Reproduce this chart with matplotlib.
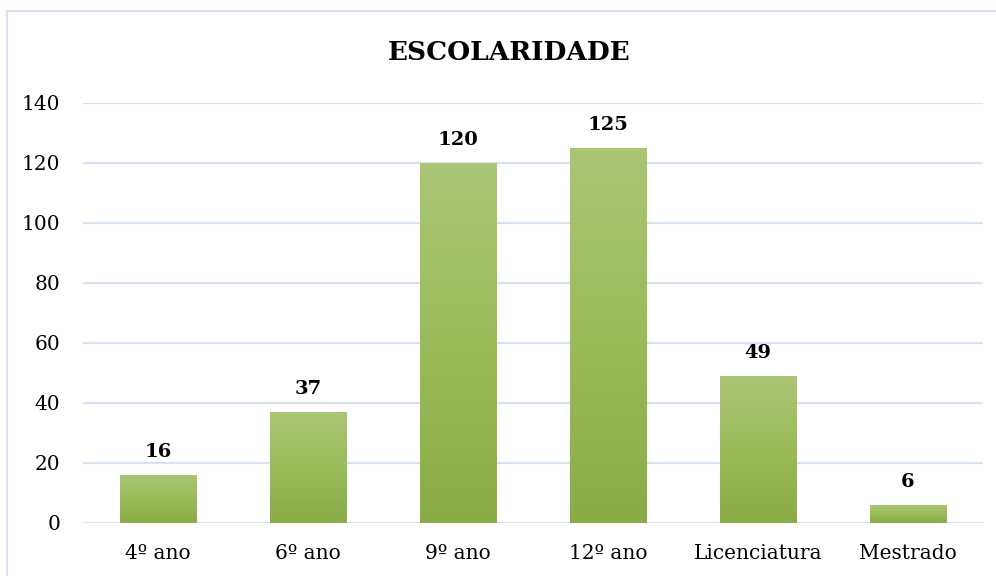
import numpy as np
import matplotlib
matplotlib.use('Agg')
import matplotlib.pyplot as plt
from matplotlib.colors import LinearSegmentedColormap
from matplotlib.patches import Rectangle

categorias = ['4º ano', '6º ano', '9º ano', '12º ano', 'Licenciatura', 'Mestrado']
valores = [16, 37, 120, 125, 49, 6]
yticks = [0, 20, 40, 60, 80, 100, 120, 140]

plt.rcParams['font.family'] = ['DejaVu Serif']

fig = plt.figure(figsize=(9.96, 5.76), dpi=100)
ax = fig.add_axes([83 / 996, 1 - 523 / 576, 900 / 996, 420 / 576])

# moldura clara em volta do gráfico
fig.patches.append(Rectangle((6.5 / 996, -0.05), 1.1, 1 - 11 / 576 + 0.05,
                             transform=fig.transFigure, fill=False,
                             edgecolor='#d6e1f1', linewidth=1.5, zorder=0))

x = np.arange(len(categorias))
bars = ax.bar(x, valores, width=0.51, color='#9bbb59', zorder=2)

# gradiente vertical nas barras
grad = LinearSegmentedColormap.from_list('g', ['#8aac46', '#9bbb59', '#aac574'])
gimg = np.linspace(0, 1, 256).reshape(-1, 1)
for b in bars:
    b.set_facecolor('none')
    im = ax.imshow(gimg, cmap=grad, origin='lower', aspect='auto',
                   extent=[b.get_x(), b.get_x() + b.get_width(), 0, b.get_height()],
                   zorder=2)
    im.set_clip_path(b)

for xi, v in zip(x, valores):
    ax.annotate(str(v), (xi, v), xytext=(0, 10), textcoords='offset points',
                ha='center', va='bottom', fontsize=14, fontweight='bold')

ax.set_xlim(-0.5, len(categorias) - 0.5)
ax.set_ylim(0, 140)
ax.set_yticks(yticks)
ax.set_xticks(x)
ax.set_xticklabels(categorias)
ax.grid(axis='y', color='#d6e1f1', linewidth=1.5, zorder=0)
ax.set_axisbelow(True)
for s in ax.spines.values():
    s.set_visible(False)
ax.tick_params(axis='both', length=0, labelsize=14.5, colors='#000000')
ax.tick_params(axis='y', pad=16.5)
ax.tick_params(axis='x', pad=15)

fig.text(509 / 996, 1 - 52 / 576, 'ESCOLARIDADE', ha='center', va='center',
         fontsize=19, fontweight='bold')

fig.savefig('out.png', dpi=100)
